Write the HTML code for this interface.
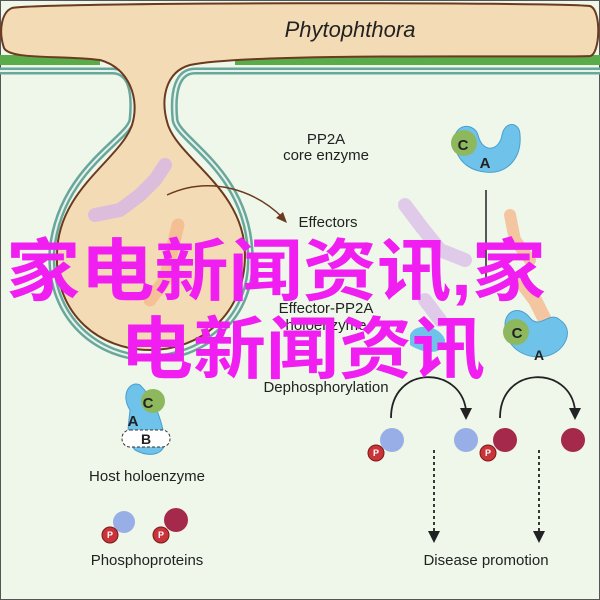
<!DOCTYPE html>
<html><head><meta charset="utf-8"><style>html,body{margin:0;padding:0;background:#fff}svg{display:block}</style></head><body>
<svg width="600" height="600" viewBox="0 0 600 600" xmlns="http://www.w3.org/2000/svg" font-family="Liberation Sans, sans-serif">
<rect x="0" y="0" width="600" height="600" fill="#eef7ea"/>
<rect x="0.5" y="0.5" width="599" height="599" fill="none" stroke="#555" stroke-width="1"/>
<rect x="0" y="55" width="100" height="10" fill="#5aab4a"/>
<rect x="235" y="55" width="365" height="10" fill="#5aab4a"/>
<path d="M0 71 H112 C130 71 135 90 132 120 C128 140 60 170 52 250 C48 320 100 358 150 358 C200 358 256 320 250 250 C245 170 178 140 175 120 C172 90 178 71 195 71 H600" fill="none" stroke="#6aa79b" stroke-width="7"/>
<path d="M0 71 H112 C130 71 135 90 132 120 C128 140 60 170 52 250 C48 320 100 358 150 358 C200 358 256 320 250 250 C245 170 178 140 175 120 C172 90 178 71 195 71 H600" fill="none" stroke="#e8f3ee" stroke-width="2"/>
<path d="M12 8 C40 2 560 2 590 6 C602 10 600 55 590 56 C560 58 250 52 190 65 C165 72 160 100 168 125 C180 160 245 190 245 255 C245 315 200 350 150 350 C100 350 55 315 57 255 C57 190 120 160 132 125 C140 100 130 68 100 60 C60 55 10 60 4 48 C-2 30 2 12 12 8 Z" fill="#f3dcb5" stroke="#6b3a1f" stroke-width="2"/>
<text x="350" y="37" font-size="22" font-style="italic" text-anchor="middle" fill="#222">Phytophthora</text>
<g opacity="0.8">
<path d="M95 215 L120 210 L140 195 L155 180 L165 165" stroke="#d7b6e6" stroke-width="14" stroke-linecap="round" fill="none"/>
<path d="M150 300 L165 280 L172 250 L178 225" stroke="#f6b98f" stroke-width="13" stroke-linecap="round" fill="none"/>
<path d="M405 205 L420 225 L440 250 L465 260" stroke="#dcc0ea" stroke-width="14" stroke-linecap="round" fill="none"/>
<path d="M510 215 L515 240 L530 260" stroke="#f6b98f" stroke-width="12" stroke-linecap="round" fill="none"/>
<path d="M520 280 L535 300 L545 320" stroke="#f6b98f" stroke-width="14" stroke-linecap="round" fill="none"/>
<path d="M425 300 L440 320" stroke="#dcc0ea" stroke-width="14" stroke-linecap="round" fill="none"/>
</g>
<path d="M167 195 C210 175 255 190 283 218" fill="none" stroke="#6b3a1f" stroke-width="1.5"/>
<path d="M287 223 L276 218 L283 212 Z" fill="#6b3a1f"/>
<g font-size="15" fill="#222" text-anchor="middle">
<text x="326" y="144">PP2A</text>
<text x="326" y="160">core enzyme</text>
<text x="328" y="227">Effectors</text>
<text x="326" y="313">Effector-PP2A</text>
<text x="326" y="330">holoenzyme</text>
<text x="326" y="392">Dephosphorylation</text>
<text x="147" y="481">Host holoenzyme</text>
<text x="147" y="565">Phosphoproteins</text>
<text x="486" y="565">Disease promotion</text>
</g>
<path d="M455 135 C460 122 475 125 478 135 C483 155 500 150 502 135 C505 120 520 122 520 135 C522 160 505 175 485 172 C465 170 452 155 455 135 Z" fill="#6fc3ea" stroke="#4a9fcf"/>
<circle cx="464" cy="143" r="13" fill="#8db85e"/>
<text x="463" y="150" font-size="15" font-weight="bold" text-anchor="middle" fill="#222">C</text>
<text x="485" y="168" font-size="15" font-weight="bold" text-anchor="middle" fill="#222">A</text>
<line x1="486" y1="190" x2="486" y2="278" stroke="#222" stroke-width="1.5"/>
<path d="M505 325 C505 310 520 305 530 318 C540 330 550 310 560 320 C575 330 565 350 550 355 C530 362 505 350 505 325 Z" fill="#6fc3ea" stroke="#4a9fcf"/>
<circle cx="516" cy="332" r="13" fill="#8db85e"/>
<text x="517" y="338" font-size="15" font-weight="bold" text-anchor="middle" fill="#222">C</text>
<text x="539" y="360" font-size="14" font-weight="bold" text-anchor="middle" fill="#222">A</text>
<path d="M410 335 C415 322 440 325 445 340 C445 355 425 355 410 345 Z" fill="#6fc3ea"/>
<path d="M130 410 C120 395 130 380 140 385 C150 395 160 410 165 440 C165 455 150 458 135 450 C125 440 128 430 130 410 Z" fill="#6fc3ea" stroke="#4a9fcf"/>
<circle cx="153" cy="401" r="12" fill="#8db85e"/>
<text x="148" y="408" font-size="15" font-weight="bold" text-anchor="middle" fill="#222">C</text>
<text x="133" y="426" font-size="15" font-weight="bold" text-anchor="middle" fill="#222">A</text>
<rect x="122" y="430" width="48" height="17" rx="8" fill="#fff" stroke="#333" stroke-dasharray="3,2"/>
<text x="146" y="444" font-size="14" font-weight="bold" text-anchor="middle" fill="#222">B</text>
<path d="M391 418 C391 365 460 365 466 410" fill="none" stroke="#222" stroke-width="1.8"/>
<path d="M460 408 L466 420 L472 408 Z" fill="#222"/>
<path d="M500 418 C500 365 570 365 575 410" fill="none" stroke="#222" stroke-width="1.8"/>
<path d="M569 408 L575 420 L581 408 Z" fill="#222"/>
<g fill="#98aee6"><circle cx="392" cy="440" r="12"/><circle cx="466" cy="440" r="12"/><circle cx="124" cy="522" r="11"/></g>
<g fill="#a5294a"><circle cx="505" cy="440" r="12"/><circle cx="573" cy="440" r="12"/><circle cx="176" cy="520" r="12"/></g>
<g fill="#c8343a" stroke="#7a1a1a"><circle cx="376" cy="453" r="8"/><circle cx="488" cy="453" r="8"/><circle cx="110" cy="535" r="8"/><circle cx="161" cy="535" r="8"/></g>
<g font-size="9" font-weight="bold" fill="#fff" text-anchor="middle"><text x="376" y="456">P</text><text x="488" y="456">P</text><text x="110" y="538">P</text><text x="161" y="538">P</text></g>
<line x1="434" y1="450" x2="434" y2="532" stroke="#222" stroke-width="1.8" stroke-dasharray="3,3"/>
<path d="M428 531 L434 543 L440 531 Z" fill="#222"/>
<line x1="539" y1="450" x2="539" y2="532" stroke="#222" stroke-width="1.8" stroke-dasharray="3,3"/>
<path d="M533 531 L539 543 L545 531 Z" fill="#222"/>
<g font-family="Liberation Sans, Noto Sans CJK SC, sans-serif" fill="#f01ef0" font-size="68" font-weight="bold">
<text x="6" y="295" textLength="540" lengthAdjust="spacingAndGlyphs">家电新闻资讯,家</text>
<text x="120" y="373" textLength="365" lengthAdjust="spacingAndGlyphs">电新闻资讯</text>
</g>
</svg>
</body></html>
